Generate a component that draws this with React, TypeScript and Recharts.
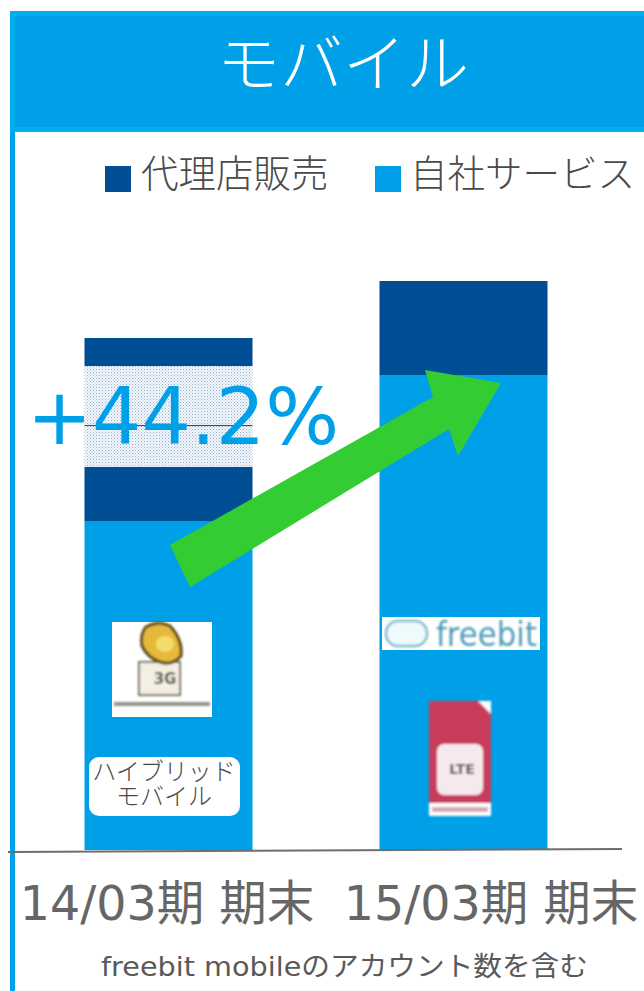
import { Bar, BarChart, Legend, XAxis, YAxis } from 'recharts'

const FONT = '"DejaVu Sans", "Noto Sans CJK JP", sans-serif'
const JP = '"Noto Sans CJK JP", sans-serif'

const periods = ['14/03期 期末', '15/03期 期末']
const ownService = [329, 475]
const agencyLower = [54, 94]
const axisBreak = [101, 0]
const agencyUpper = [28, 0]
const tickShift = [-1, 28]

const legendItems = [
  { label: '代理店販売', color: '#004F94', box: 105, text: 141 },
  { label: '自社サービス', color: '#00A0E9', box: 375, text: 410 },
]

const data = periods.map((period, i) => ({
  period,
  ownService: ownService[i],
  agencyLower: agencyLower[i],
  axisBreak: axisBreak[i],
  agencyUpper: agencyUpper[i],
}))

function BreakShape({ x, y, width, height }: any) {
  if (!height) return null
  const mid = y + height * 0.59
  return (
    <g>
      <defs>
        <pattern id="dots" width="3" height="3" patternUnits="userSpaceOnUse">
          <rect width="3" height="3" fill="#f4f7fb" />
          <rect width="1" height="1" fill="#8fb0d0" />
          <rect x="1.5" y="1.5" width="1" height="1" fill="#a9c3dc" />
        </pattern>
      </defs>
      <rect x={x} y={y} width={width} height={height} fill="url(#dots)" />
      <line x1={x} x2={x + width} y1={mid} y2={mid} stroke="#004F94" strokeWidth={1} />
    </g>
  )
}

function PeriodTick({ x, y, payload, index }: any) {
  return (
    <text
      x={x + tickShift[index]}
      y={y + 62}
      textAnchor="middle"
      fontFamily={FONT}
      fontSize={47.5}
      fill="#666666"
    >
      {payload.value}
    </text>
  )
}

function LegendRow() {
  return (
    <div style={{ position: 'relative', width: 644, height: 60 }}>
      {legendItems.map((item) => (
        <div key={item.label}>
          <div
            style={{
              position: 'absolute',
              left: item.box,
              top: 16,
              width: 26,
              height: 26,
              background: item.color,
            }}
          />
          <div
            style={{
              position: 'absolute',
              left: item.text,
              top: -2,
              fontFamily: JP,
              fontSize: 37.5,
              fontWeight: 300,
              lineHeight: '46px',
              color: '#4a4a4a',
              whiteSpace: 'nowrap',
            }}
          >
            {item.label}
          </div>
        </div>
      ))}
    </div>
  )
}

export default function App() {
  return (
    <div style={{ position: 'absolute', left: 0, top: 0, width: 644, height: 991, background: '#fff', overflow: 'hidden' }}>
      <BarChart
        width={644}
        height={991}
        data={data}
        barSize={168}
        margin={{ top: 190, right: 33.5, left: 20.5, bottom: 0 }}
      >
        <XAxis
          dataKey="period"
          height={141}
          axisLine={false}
          tickLine={false}
          tick={<PeriodTick />}
          interval={0}
        />
        <YAxis hide domain={[0, 600]} />
        <Legend
          verticalAlign="top"
          content={<LegendRow />}
          wrapperStyle={{ position: 'absolute', left: 0, top: 150, width: 644 }}
        />
        <Bar dataKey="ownService" stackId="a" fill="#00A0E9" isAnimationActive={false} />
        <Bar dataKey="agencyLower" stackId="a" fill="#004F94" isAnimationActive={false} />
        <Bar dataKey="axisBreak" stackId="a" shape={<BreakShape />} isAnimationActive={false} />
        <Bar dataKey="agencyUpper" stackId="a" fill="#004F94" isAnimationActive={false} />
      </BarChart>

      <svg width={644} height={991} style={{ position: 'absolute', left: 0, top: 0 }}>
        <defs>
          <filter id="soft">
            <feGaussianBlur stdDeviation="0.8" />
          </filter>
        </defs>

        {/* panel frame and header */}
        <rect x={10} y={130} width={5} height={861} fill="#00A3EB" />
        <rect x={10} y={11} width={634} height={121} fill="#00B0EC" />
        <rect x={15} y={16} width={629} height={111} fill="#00A0E9" />
        <text x={343} y={86} textAnchor="middle" fontFamily={JP} fontSize={63} fontWeight={300} fill="#fff">
          モバイル
        </text>

        {/* baseline */}
        <line x1={8} y1={852} x2={622} y2={849} stroke="#6e6e6e" strokeWidth={2} />

        {/* left logo */}
        <rect x={112} y={622} width={100} height={95} fill="#fff" />
        <g filter="url(#soft)">
          <rect x={139} y={662} width={41} height={33} fill="#f3efe2" stroke="#77705f" strokeWidth={2} />
          <path
            d="M146 627 Q158 620 170 626 Q183 640 181 656 Q172 666 160 662 Q148 658 142 646 Q140 634 146 627 Z"
            fill="#e6b93a"
            stroke="#5f4c1c"
            strokeWidth={3}
          />
          <ellipse cx={165} cy={644} rx={9} ry={8} fill="#f4dc6a" />
          <text x={165} y={684} textAnchor="middle" fontFamily={FONT} fontSize={15} fontWeight={700} fill="#55503f">
            3G
          </text>
          <rect x={114} y={702} width={96} height={4} fill="#77776f" opacity={0.8} />
        </g>

        {/* hybrid label */}
        <rect x={89} y={757} width={151} height={59} rx={10} fill="#fff" />
        <text textAnchor="middle" fontFamily={JP} fontSize={24} fontWeight={300} fill="#4a4a4a">
          <tspan x={164} y={780}>ハイブリッド</tspan>
          <tspan x={164} y={805}>モバイル</tspan>
        </text>

        {/* freebit logo */}
        <rect x={382} y={617} width={158} height={33} fill="#fff" />
        <g filter="url(#soft)">
          <rect x={386} y={621} width={41} height={25} rx={12} fill="#effafd" stroke="#7dbcd2" strokeWidth={2.5} />
          <text x={436} y={646} fontFamily={FONT} fontSize={34} textLength={101} lengthAdjust="spacingAndGlyphs" fill="#4d9db8">
            freebit
          </text>
        </g>

        {/* sim logo */}
        <g filter="url(#soft)">
          <rect x={429} y={701} width={62} height={115} fill="#fff" />
          <path d="M429 701 H478 L491 714 V803 H429 Z" fill="#C93C5C" />
          <rect x={437} y={744} width={46} height={51} rx={7} fill="#f6e9ee" />
          <text x={462} y={774} textAnchor="middle" fontFamily={FONT} fontSize={14} fontWeight={700} fill="#6a4a55">
            LTE
          </text>
          <rect x={432} y={807} width={56} height={5} fill="#d8a8b6" />
        </g>

        {/* growth arrow */}
        <polygon
          points="170,545 433,397 425,370 501,383 458,456 449,429 190,587"
          fill="#33CC33"
        />
        <text x={27} y={444} fontFamily={FONT} fontSize={78} fill="#00A0E9" textLength={312} lengthAdjust="spacingAndGlyphs">
          +44.2%
        </text>

        {/* footnote */}
        <text x={101} y={976} fontFamily={FONT} fontSize={27} fill="#595959" textLength={487} lengthAdjust="spacingAndGlyphs">
          freebit mobileのアカウント数を含む
        </text>
      </svg>
    </div>
  )
}
